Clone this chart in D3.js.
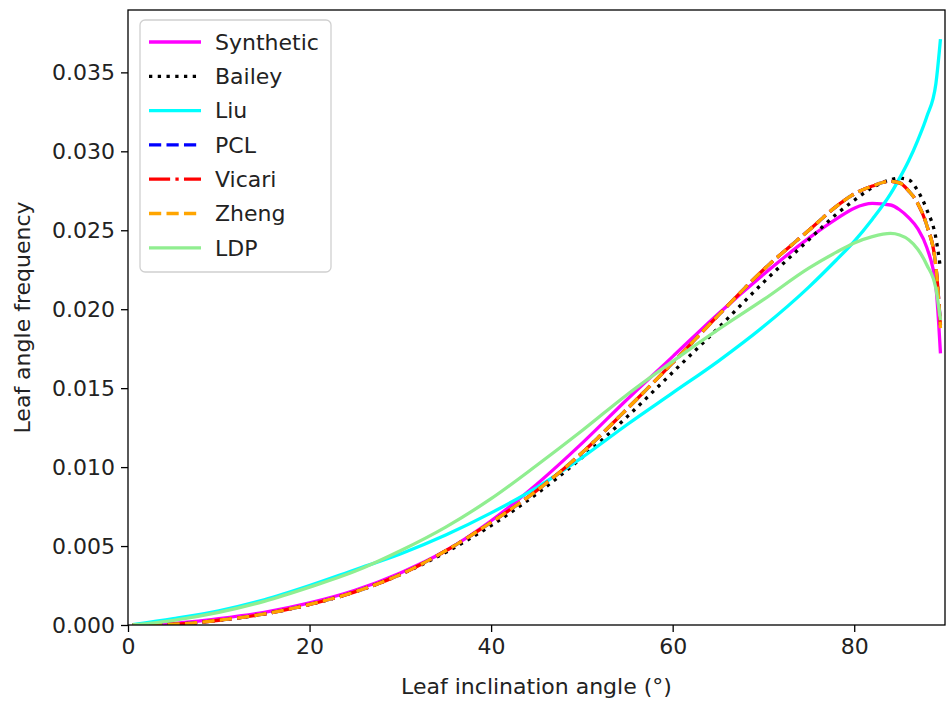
<html>
    <head>
        <title> Leaf angle distribution </title>
        <script src="https://d3js.org/d3.v7.min.js"></script>
    </head>

    <style>
        body {
            margin: 0;
            background: white;
        }
        text {
            font-family: "DejaVu Sans", sans-serif;
        }
    </style>

    <body>
        <div id="LineChart"></div>

        <script type="text/javascript">

            // leaf inclination angles (degrees)
            var angles = [0.5, 5, 10, 15, 20, 25, 30, 35, 40, 45, 50, 55, 60, 65, 70, 75, 78, 80, 82, 84, 85, 86, 87, 88, 89, 89.5];

            var synthetic = [0.0000, 0.0001, 0.0004, 0.0008, 0.0014, 0.0022, 0.0033, 0.0047, 0.0066, 0.0089, 0.0115, 0.0143, 0.0170, 0.0197, 0.0222, 0.0245, 0.0257, 0.0264, 0.0267, 0.0266, 0.0263, 0.0258, 0.0251, 0.0239, 0.0214, 0.0172];
            var bailey    = [0.0000, 0.00005, 0.0003, 0.0007, 0.0013, 0.0021, 0.0032, 0.0046, 0.0063, 0.0083, 0.0106, 0.0132, 0.0160, 0.0188, 0.0217, 0.0244, 0.0260, 0.0269, 0.0277, 0.0282, 0.0283, 0.0282, 0.0275, 0.0263, 0.0245, 0.0226];
            var liu       = [0.00002, 0.0004, 0.0009, 0.0016, 0.0025, 0.0035, 0.0045, 0.0057, 0.0071, 0.0087, 0.0106, 0.0127, 0.0147, 0.0167, 0.0189, 0.0214, 0.0231, 0.0243, 0.0257, 0.0273, 0.0283, 0.0294, 0.0307, 0.0322, 0.0343, 0.0371];
            var pcl       = [0.0000, 0.00005, 0.0003, 0.0007, 0.0013, 0.0021, 0.0032, 0.0047, 0.0065, 0.0085, 0.0109, 0.0137, 0.0166, 0.0196, 0.0225, 0.0250, 0.0265, 0.0273, 0.0278, 0.0281, 0.0280, 0.0275, 0.0267, 0.0253, 0.0227, 0.0190];
            var vicari    = [0.0000, 0.00005, 0.0003, 0.0007, 0.0013, 0.0021, 0.0032, 0.0047, 0.0065, 0.0085, 0.0109, 0.0137, 0.0166, 0.0196, 0.0225, 0.0250, 0.0265, 0.0273, 0.0278, 0.0281, 0.0280, 0.0275, 0.0267, 0.0253, 0.0227, 0.0189];
            var zheng     = [0.0000, 0.00005, 0.0003, 0.0007, 0.0013, 0.0021, 0.0032, 0.0047, 0.0065, 0.0085, 0.0109, 0.0137, 0.0166, 0.0196, 0.0225, 0.0250, 0.0265, 0.0273, 0.0278, 0.0281, 0.0280, 0.0275, 0.0267, 0.0253, 0.0227, 0.0188];
            var ldp       = [0.0000, 0.0003, 0.0008, 0.0015, 0.0024, 0.0034, 0.0047, 0.0062, 0.0080, 0.0101, 0.0123, 0.0146, 0.0167, 0.0187, 0.0206, 0.0226, 0.0236, 0.0242, 0.0246, 0.0248, 0.0247, 0.0244, 0.0238, 0.0228, 0.0213, 0.0193];

            var seriesNames = ["Synthetic", "Bailey", "Liu", "PCL", "Vicari", "Zheng", "LDP"];
            var seriesValues = [synthetic, bailey, liu, pcl, vicari, zheng, ldp];

            var xTicks = [0, 20, 40, 60, 80];
            var yTicks = [0, 0.005, 0.010, 0.015, 0.020, 0.025, 0.030, 0.035];

            var lw = 3.3;
            var styles = {
                Synthetic: {color: "#ff00ff", dash: null},
                Bailey:    {color: "#000000", dash: [1 * lw, 1.65 * lw]},
                Liu:       {color: "#00ffff", dash: null},
                PCL:       {color: "#0000ff", dash: [3.7 * lw, 1.6 * lw]},
                Vicari:    {color: "#ff0000", dash: [6.4 * lw, 1.6 * lw, 1 * lw, 1.6 * lw]},
                Zheng:     {color: "#ffa500", dash: [3.7 * lw, 1.6 * lw]},
                LDP:       {color: "#90ee90", dash: null}
            };

            var fontSize = "22px";

            var margin = {top: 10, right: 2, bottom: 80, left: 128},
                width = 947 - margin.left - margin.right,
                height = 705 - margin.top - margin.bottom;

            var svg = d3.select("#LineChart")
                        .append("svg")
                        .attr("width", 947)
                        .attr("height", 705)
                        .append("g")
                        .attr("transform", "translate(" + margin.left + "," + margin.top + ")");

            var x = d3.scaleLinear()
                    .domain([0, 90])
                    .range([0, width]);

            var y = d3.scaleLinear()
                    .domain([0, 0.03895])
                    .range([height, 0]);

            svg.append("clipPath")
                .attr("id", "plotArea")
                .append("rect")
                .attr("width", width)
                .attr("height", height);

            var line = d3.line()
                        .x(function(d) { return x(d.a); })
                        .y(function(d) { return y(d.v); })
                        .curve(d3.curveMonotoneX);

            seriesNames.forEach(function(name, i) {
                var pts = angles.map(function(a, j) { return {a: a, v: seriesValues[i][j]}; });
                svg.append("path")
                    .datum(pts)
                    .attr("clip-path", "url(#plotArea)")
                    .attr("fill", "none")
                    .attr("stroke", styles[name].color)
                    .attr("stroke-width", lw)
                    .attr("stroke-dasharray", styles[name].dash ? styles[name].dash.join(",") : null)
                    .attr("d", line);
            });

            // axes
            var xAxis = svg.append("g")
                .attr("transform", "translate(0," + height + ")")
                .call(d3.axisBottom(x).tickValues(xTicks).tickSize(7).tickPadding(6).tickSizeOuter(0));

            var yAxis = svg.append("g")
                .call(d3.axisLeft(y).tickValues(yTicks).tickFormat(d3.format(".3f")).tickSize(7).tickPadding(6).tickSizeOuter(0));

            [xAxis, yAxis].forEach(function(g) {
                g.select(".domain").remove();
                g.selectAll("line").attr("stroke", "black").attr("stroke-width", 1.3);
                g.selectAll("text")
                    .attr("fill", "#222")
                    .style("font-size", fontSize)
                    .style("font-family", "DejaVu Sans");
            });

            // frame
            svg.append("rect")
                .attr("width", width)
                .attr("height", height)
                .attr("fill", "none")
                .attr("stroke", "black")
                .attr("stroke-width", 1.3);

            svg.append("text")
                .attr("x", width / 2)
                .attr("y", height + 69)
                .attr("text-anchor", "middle")
                .style("font-size", fontSize)
                .attr("fill", "#222")
                .text("Leaf inclination angle (°)");

            svg.append("text")
                .attr("transform", "translate(" + (22 - margin.left) + "," + (height / 2) + ") rotate(-90)")
                .attr("text-anchor", "middle")
                .attr("dy", "0.35em")
                .style("font-size", fontSize)
                .attr("fill", "#222")
                .text("Leaf angle frequency");

            // legend
            var legend = svg.append("g")
                .attr("transform", "translate(" + (140 - margin.left) + "," + (20 - margin.top) + ")");

            legend.append("rect")
                .attr("width", 191)
                .attr("height", 252)
                .attr("rx", 5)
                .attr("fill", "white")
                .attr("fill-opacity", 0.8)
                .attr("stroke", "#d0d0d0")
                .attr("stroke-width", 1.3);

            var items = legend.selectAll(".item")
                .data(seriesNames)
                .enter()
                .append("g")
                .attr("transform", function(d, i) { return "translate(0," + (22 + i * 34.3) + ")"; });

            items.append("line")
                .attr("x1", 9)
                .attr("x2", 61)
                .attr("stroke", function(d) { return styles[d].color; })
                .attr("stroke-width", lw)
                .attr("stroke-dasharray", function(d) { return styles[d].dash ? styles[d].dash.join(",") : null; });

            items.append("text")
                .attr("x", 75)
                .attr("dy", "0.35em")
                .style("font-size", fontSize)
                .attr("fill", "#222")
                .text(function(d) { return d; });

        </script>
    </body>
</html>
